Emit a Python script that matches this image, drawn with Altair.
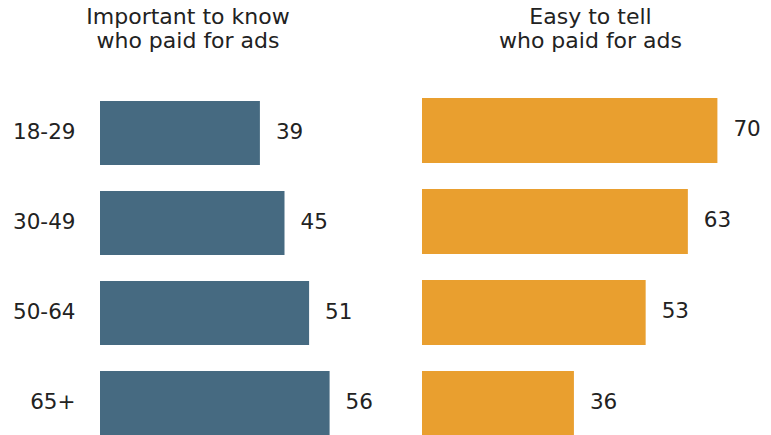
import altair as alt
import pandas as pd

# ---- data ----
ages = ["18-29", "30-49", "50-64", "65+"]
important = [39, 45, 51, 56]
easy = [70, 63, 53, 36]
titles = [["Important to know", "who paid for ads"], ["Easy to tell", "who paid for ads"]]

FONT = "DejaVu Sans"
TXT = "#222222"
BLUE = "#466a81"
ORANGE = "#e99f2f"

df1 = pd.DataFrame({"age": ages, "value": important})
df2 = pd.DataFrame({"age": ages, "value": easy})


def panel(df, color, title, width, dmax, pin, pout, align, show_y, dx):
    y_axis = (
        alt.Axis(title=None, domain=False, ticks=False, labelPadding=25,
                 labelFontSize=21.5, labelFont=FONT, labelColor=TXT)
        if show_y else None
    )
    base = alt.Chart(df).encode(
        y=alt.Y("age:N", sort=ages, axis=y_axis,
                scale=alt.Scale(paddingInner=pin, paddingOuter=pout, align=align)),
        x=alt.X("value:Q", axis=None, scale=alt.Scale(domain=[0, dmax], nice=False)),
    )
    bars = base.mark_bar(color=color)
    labels = base.mark_text(align="left", baseline="middle", dx=16, fontSize=21.5,
                            font=FONT, color=TXT).encode(text="value:Q")
    return (bars + labels).properties(
        width=width,
        height=348,
        title=alt.TitleParams(text=title, fontSize=22, font=FONT, fontWeight="normal",
                              color=TXT, lineHeight=24, anchor="middle", frame="group",
                              dx=dx, offset=35),
    )


left = panel(df1, BLUE, titles[0], 300, 300 / 4.1, 0.289, 0.0778, 0.93, True, -62)
right = panel(df2, ORANGE, titles[1], 349, 349 / 4.22, 0.2857, 0.0549, 1.0, False, -6)

chart = (
    alt.hconcat(left, right, spacing=22)
    .properties(padding={"left": 12, "top": 6, "right": 0, "bottom": 0})
    .configure_view(stroke=None)
)

chart.save("out.html", embed_options={"renderer": "svg", "actions": False})
